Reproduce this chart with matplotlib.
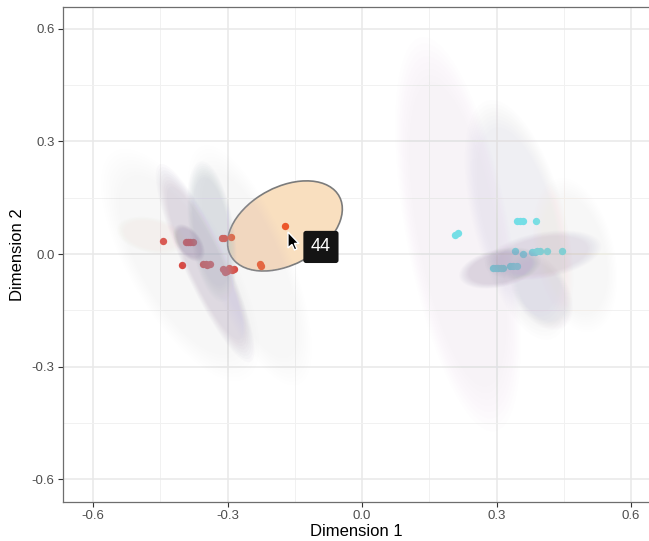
import numpy as np
import matplotlib
matplotlib.use("Agg")
import matplotlib.pyplot as plt
from matplotlib.patches import Ellipse, Polygon
from matplotlib.transforms import Affine2D, ScaledTranslation

plt.rcParams['font.family'] = ['Liberation Sans', 'DejaVu Sans']

# MDS coordinates, left group (red / orange) and right group (cyan)
red_x = [-0.444, -0.402, -0.393, -0.388, -0.383, -0.378, -0.313, -0.308,
         -0.355, -0.349, -0.345, -0.340, -0.311, -0.306, -0.301, -0.296,
         -0.290, -0.285]
red_y = [0.035, -0.030, 0.032, 0.033, 0.032, 0.033, 0.044, 0.043,
         -0.027, -0.026, -0.028, -0.027, -0.040, -0.047, -0.044, -0.038,
         -0.041, -0.039]
orange_x = [-0.293, -0.228, -0.226, -0.172]
orange_y = [0.046, -0.026, -0.031, 0.075]
cyan_x = [0.208, 0.214, 0.345, 0.353, 0.360, 0.387, 0.342, 0.358, 0.379,
          0.385, 0.391, 0.397, 0.413, 0.445, 0.293, 0.298, 0.304, 0.309,
          0.315, 0.330, 0.337, 0.345]
cyan_y = [0.052, 0.055, 0.088, 0.089, 0.089, 0.089, 0.008, 0.001, 0.006,
          0.006, 0.007, 0.007, 0.007, 0.007, -0.038, -0.038, -0.038, -0.038,
          -0.037, -0.032, -0.032, -0.031]

# confidence ellipses: centre, x spread, y spread, correlation
ell_x = [-0.406, -0.350, -0.335, -0.250, -0.386, -0.470,
         0.214, 0.350, 0.475, 0.308, 0.404, 0.400]
ell_y = [-0.029, -0.024, 0.060, -0.030, 0.030, 0.050,
         0.053, 0.091, -0.003, -0.037, -0.003, -0.100]
ell_sx = [0.160, 0.100, 0.050, 0.125, 0.032, 0.070,
          0.127, 0.110, 0.085, 0.083, 0.118, 0.064]
ell_sy = [0.280, 0.240, 0.170, 0.290, 0.045, 0.045,
          0.477, 0.290, 0.186, 0.050, 0.060, 0.093]
ell_r = [-0.70, -0.88, -0.40, -0.70, -0.50, -0.30,
         -0.55, -0.50, -0.30, 0.35, 0.35, -0.40]
ell_col = ['#d9cde4', '#a795b4', '#a3afbf', '#d6d0e2', '#9a88a8', '#f3d6c0',
           '#ddd3e6', '#cfcad9', '#f6eddc', '#9684a4', '#a594b2', '#c3b6cf']
ell_alpha = [0.10, 0.20, 0.20, 0.10, 0.24, 0.10,
             0.13, 0.15, 0.12, 0.18, 0.13, 0.15]

# hovered item
hover_id = "44"
hover_x, hover_y = -0.172, 0.075
hover_sx, hover_sy, hover_r = 0.128, 0.120, 0.377

ticks = [-0.6, -0.3, 0.0, 0.3, 0.6]
tick_labels = ['-0.6', '-0.3', '0.0', '0.3', '0.6']


def cov_ellipse(cx, cy, sx, sy, r, **kw):
    cov = np.array([[sx * sx, r * sx * sy], [r * sx * sy, sy * sy]])
    vals, vecs = np.linalg.eigh(cov)
    angle = np.degrees(np.arctan2(vecs[1, 1], vecs[0, 1]))
    return Ellipse((cx, cy), 2 * np.sqrt(vals[1]), 2 * np.sqrt(vals[0]),
                   angle=angle, **kw)


fig = plt.figure(figsize=(6.49, 5.41), dpi=100)
ax = fig.add_axes([0.0971, 0.0721, 0.9029, 0.915])

ax.set_xticks(ticks)
ax.set_xticklabels(tick_labels)
ax.set_yticks(ticks)
ax.set_yticklabels(tick_labels)
ax.set_xticks(np.arange(-0.75, 0.8, 0.15), minor=True)
ax.set_yticks(np.arange(-0.75, 0.8, 0.15), minor=True)
ax.set_xlim(-0.667, 0.640)
ax.set_ylim(-0.660, 0.658)
ax.tick_params(which='minor', length=0)
ax.tick_params(which='major', length=3.5, width=0.8, color='#333333',
               labelcolor='#4d4d4d', labelsize=9.5, pad=2.5)
ax.grid(which='major', color='#e8e8e8', lw=1.1, zorder=0)
ax.grid(which='minor', color='#f1f1f1', lw=0.7, zorder=0)
ax.set_axisbelow(True)
for side in ['left', 'bottom', 'top']:
    ax.spines[side].set_color('#6e6e6e')
    ax.spines[side].set_linewidth(0.9)
ax.spines['right'].set_visible(False)

ax.set_xlabel('Dimension 1', fontsize=12, labelpad=1)
ax.set_ylabel('Dimension 2', fontsize=12, labelpad=5)

# hovered ellipse sits under the points
ax.add_patch(cov_ellipse(hover_x, hover_y, hover_sx, hover_sy, hover_r,
                         facecolor='#f9dfbf', edgecolor='#7b7b7b', lw=1.2,
                         zorder=1.8))

ax.scatter(red_x, red_y, s=28, color='#e0392b', lw=0, zorder=2)
ax.scatter(orange_x, orange_y, s=28, color='#ec572a', lw=0, zorder=2)
ax.scatter(cyan_x, cyan_y, s=28, color='#5ee6ee', lw=0, zorder=2)

# faint ellipses with soft edges: stack of shrinking copies
layers = np.linspace(1.10, 0.85, 8)
for cx, cy, sx, sy, r, c, a in zip(ell_x, ell_y, ell_sx, ell_sy, ell_r,
                                   ell_col, ell_alpha):
    for k in layers:
        ax.add_patch(cov_ellipse(cx, cy, sx * k, sy * k, r, facecolor=c,
                                 edgecolor='none', alpha=a / len(layers) * 1.6,
                                 zorder=3))

# mouse pointer (pixel units, anchored at the hovered point)
cursor = np.array([[0, 0], [0, -16], [4, -12.5], [6.5, -18], [9, -17],
                   [6.5, -11.5], [11, -11.5]]) + [3, -6]
ptr_tf = Affine2D() + ScaledTranslation(hover_x, hover_y, ax.transData)
ax.add_patch(Polygon(cursor, closed=True, facecolor='black',
                     edgecolor='white', lw=1.0, transform=ptr_tf, zorder=5))

ax.annotate(hover_id, xy=(hover_x, hover_y), xytext=(36, -21),
            textcoords='offset pixels', ha='center', va='center',
            color='white', fontsize=13, zorder=6,
            bbox=dict(boxstyle='round,pad=0.42,rounding_size=0.15',
                      fc='#141414', ec='none'))

fig.savefig('out.png', dpi=100)
